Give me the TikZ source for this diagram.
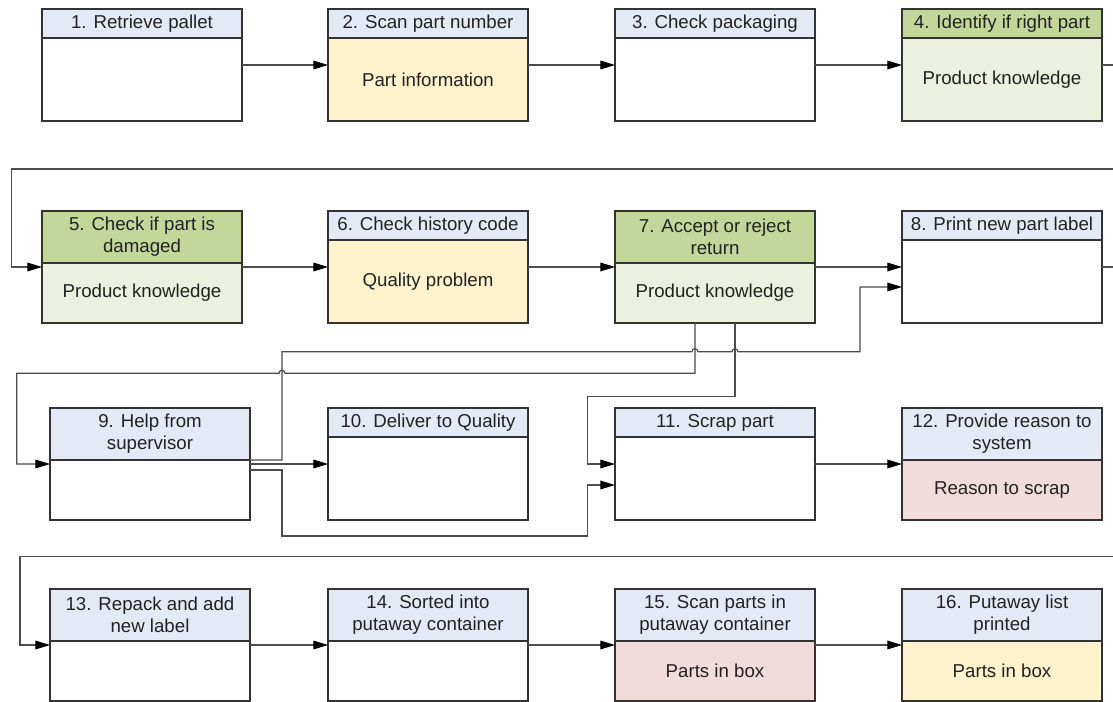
\documentclass[tikz,border=0pt]{standalone}
\usepackage{fontspec}
\setmainfont{Liberation Sans}
\usetikzlibrary{arrows.meta,calc}
\definecolor{hblue}{HTML}{E3EAF5}
\definecolor{hgreen}{HTML}{C4D79B}
\definecolor{bgreen}{HTML}{EBF1DE}
\definecolor{byellow}{HTML}{FFF2CC}
\definecolor{bpink}{HTML}{F2DCDB}
\definecolor{txt}{HTML}{222222}
\newcommand\boxfont{\fontsize{14}{16.5}\selectfont}
\tikzset{
  outer/.style={draw=black!80, line width=0.9pt, minimum width=150pt, minimum height=84pt, inner sep=0pt, outer sep=0pt},
  hdr/.style={draw=black!80, line width=0.9pt, minimum width=150pt, inner sep=0pt, outer sep=0pt, align=center, font=\boxfont, text=txt},
  bodytxt/.style={inner sep=0pt, align=center, font=\boxfont, text=txt},
  conn/.style={draw=black!70, line width=0.9pt, -{Triangle[length=11pt,width=6.5pt,black]}},
  plain/.style={draw=black!70, line width=0.9pt},
}
\newcommand\pbox[8]{%
  \node[outer, fill=#6, anchor=north west] (#1) at (#2,#3) {};
  \node[hdr, fill=#5, minimum height=#4, anchor=north] (#1h) at (#1.north) {#7};
  \node[bodytxt] (#1b) at ($(#1h.south)!0.5!(#1.south)$) {#8};
}
\begin{document}
\begin{tikzpicture}[x=0.75pt, y=-0.75pt]
\fill[white] (0,0) rectangle (1113,702);
\useasboundingbox (0,0) rectangle (1113,702);
% row 1
\pbox{b1}{42}{9}{21.75pt}{hblue}{white}{1. Retrieve pallet}{}
\pbox{b2}{328}{9}{21.75pt}{hblue}{byellow}{2. Scan part number}{Part information}
\pbox{b3}{615}{9}{21.75pt}{hblue}{white}{3. Check packaging}{}
\pbox{b4}{902}{9}{21.75pt}{hgreen}{bgreen}{4. Identify if right part}{Product knowledge}
% row 2
\pbox{b5}{42}{211}{39pt}{hgreen}{bgreen}{5. Check if part is\\damaged}{Product knowledge}
\pbox{b6}{328}{211}{21.75pt}{hblue}{byellow}{6. Check history code}{Quality problem}
\pbox{b7}{615}{211}{39pt}{hgreen}{bgreen}{7. Accept or reject\\return}{Product knowledge}
\pbox{b8}{902}{211}{21.75pt}{hblue}{white}{8. Print new part label}{}
% row 3
\pbox{b9}{50}{408}{39pt}{hblue}{white}{9. Help from\\supervisor}{}
\pbox{b10}{328}{408}{21.75pt}{hblue}{white}{10. Deliver to Quality}{}
\pbox{b11}{615}{408}{21.75pt}{hblue}{white}{11. Scrap part}{}
\pbox{b12}{902}{408}{39pt}{hblue}{bpink}{12. Provide reason to\\system}{Reason to scrap}
% row 4
\pbox{b13}{50}{589}{39pt}{hblue}{white}{13. Repack and add\\new label}{}
\pbox{b14}{328}{589}{39pt}{hblue}{white}{14. Sorted into\\putaway container}{}
\pbox{b15}{615}{589}{39pt}{hblue}{bpink}{15. Scan parts in\\putaway container}{Parts in box}
\pbox{b16}{902}{589}{39pt}{hblue}{byellow}{16. Putaway list\\printed}{Parts in box}
% edge coordinates
\coordinate (redge) at (1113,0);
\coordinate (wrapA) at (1113,169);
\coordinate (wrapB) at (1113,556.7);
% row 1 connectors
\draw[conn] (b1.east) -- (b2.west);
\draw[conn] (b2.east) -- (b3.west);
\draw[conn] (b3.east) -- (b4.west);
\draw[plain] (b4.east) -- (b4.east -| redge);
\draw[conn] (wrapA) -- (11.5,169) |- (b5.west);
% row 2 connectors
\draw[conn] (b5.east) -- (b6.west);
\draw[conn] (b6.east) -- (b7.west);
\draw[conn] (b7.east) -- (b8.west);
\draw[plain] (b8.east) -- (b8.east -| redge);
% 7 -> 9
\draw[conn] ($(b7.south)+(-20,0)$) |- (285,373.3)
   arc[start angle=0, end angle=180, radius=2.25pt] -- (16.8,373.3) |- (b9.west);
% 7 -> 11
\draw[conn] ($(b7.south)+(20,0)$) |- (587.5,396.7) |- (b11.west);
% 9 -> 8
\draw[conn] (b9h.south east) -| (282,351.7) -- (692,351.7)
   arc[start angle=180, end angle=0, radius=2.25pt] -- (732,351.7)
   arc[start angle=180, end angle=0, radius=2.25pt] -- (860,351.7)
   |- ($(b8.west)+(0,20)$);
% 9 -> 10
\draw[conn] (b9.east) -- (b10.west);
% 9 -> 11
\draw[conn] ($(b9.east)+(0,6)$) -| (282,536) -- (587.5,536) |- ($(b11.west)+(0,21)$);
% 11 -> 12
\draw[conn] (b11.east) -- (b12.west);
% row 4
\draw[conn] (wrapB) -- (20,556.7) |- (b13.west);
\draw[conn] (b13.east) -- (b14.west);
\draw[conn] (b14.east) -- (b15.west);
\draw[conn] (b15.east) -- (b16.west);
\end{tikzpicture}
\end{document}
